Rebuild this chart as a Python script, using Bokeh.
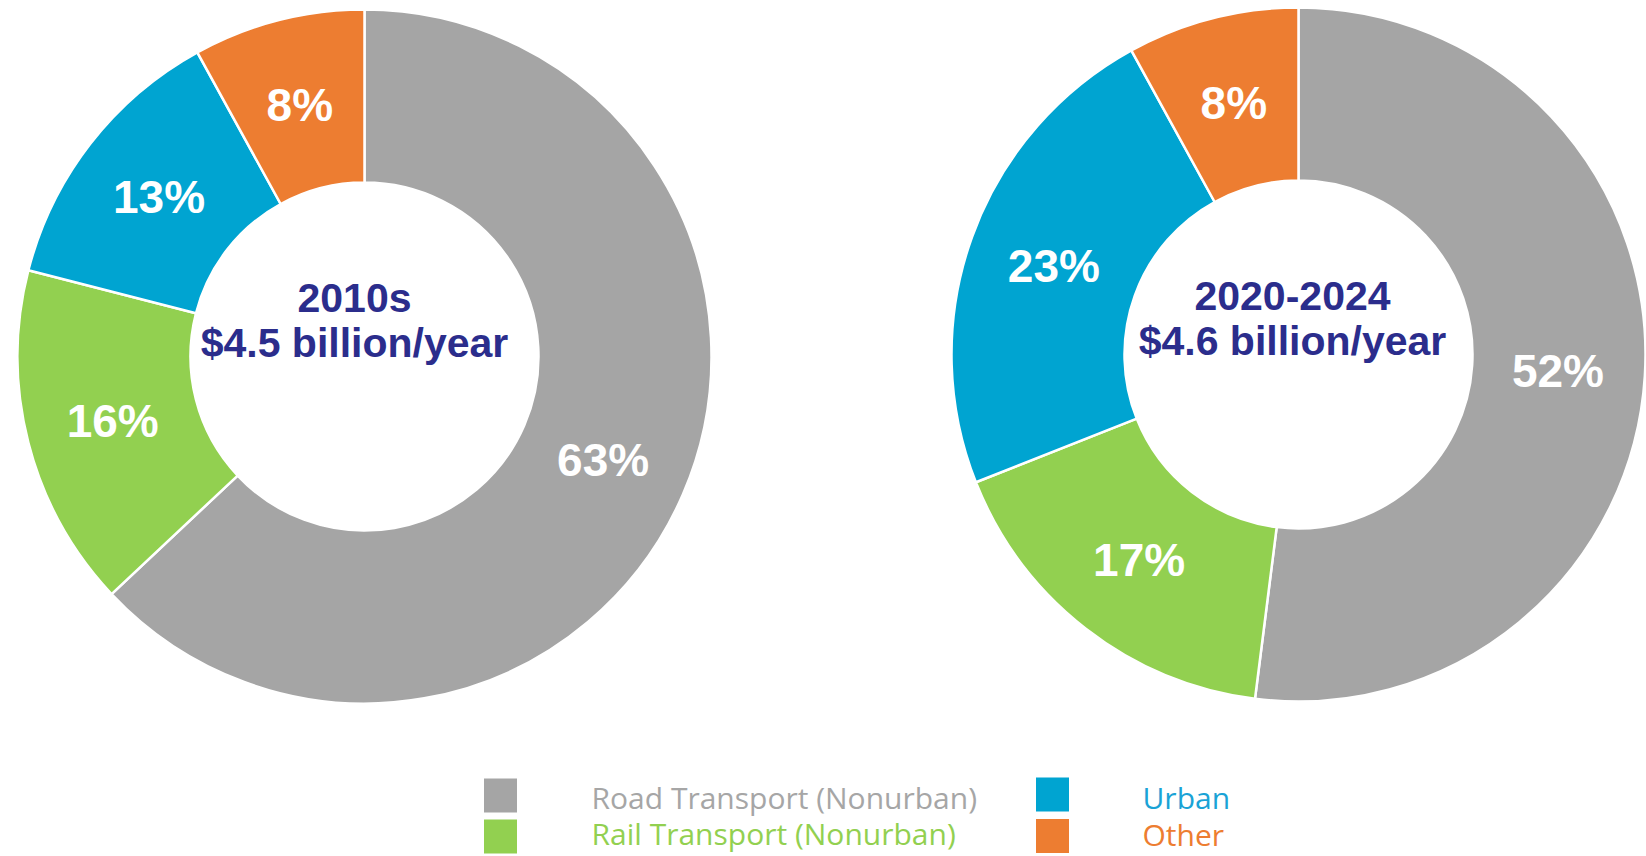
import math
from bokeh.plotting import figure
from bokeh.models import ColumnDataSource, Range1d
from bokeh.core.properties import value
from bokeh.embed import file_html
from bokeh.resources import INLINE

categories = ["Road Transport (Nonurban)", "Rail Transport (Nonurban)", "Urban", "Other"]
colors = ["#A5A5A5", "#92D050", "#00A4D1", "#ED7D31"]
legend_text_colors = ["#A6A6A6", "#92D050", "#1AA3D6", "#ED7D31"]
shares_2010s = [63, 16, 13, 8]
shares_2020s = [52, 17, 23, 8]
titles = ["2010s", "2020-2024"]
subtitles = ["$4.5 billion/year", "$4.6 billion/year"]

W, H = 1646, 856
p = figure(width=W, height=H, output_backend="svg", toolbar_location=None,
           x_range=Range1d(0, W), y_range=Range1d(0, H), min_border=0)
p.axis.visible = False
p.grid.visible = False
p.outline_line_color = None
p.background_fill_color = "white"
p.border_fill_color = "white"

donuts = [
    dict(cx=364, cy=500, shares=shares_2010s, tx=354, ty1=559, ty2=514),
    dict(cx=1298, cy=502, shares=shares_2020s, tx=1292, ty1=561, ty2=516),
]
R_OUT, R_IN, R_LBL = 347, 174, 260

for i, d in enumerate(donuts):
    total = float(sum(d["shares"]))
    starts, ends, lx, ly, labels = [], [], [], [], []
    cum = 0.0
    for s in d["shares"]:
        a0 = math.pi / 2 - 2 * math.pi * (cum + s) / total
        a1 = math.pi / 2 - 2 * math.pi * cum / total
        starts.append(a0)
        ends.append(a1)
        mid = (a0 + a1) / 2
        lx.append(d["cx"] + R_LBL * math.cos(mid))
        ly.append(d["cy"] + R_LBL * math.sin(mid))
        labels.append(f"{s}%")
        cum += s
    src = ColumnDataSource(dict(start=starts, end=ends, color=colors,
                                lx=lx, ly=ly, label=labels))
    p.annular_wedge(x=d["cx"], y=d["cy"], inner_radius=R_IN, outer_radius=R_OUT,
                    start_angle="start", end_angle="end", fill_color="color",
                    line_color="white", line_width=2.5, source=src)
    p.text(x="lx", y="ly", text="label", source=src, text_color="white",
           text_font=value("Liberation Sans"), text_font_style="bold",
           text_font_size="46px", text_align="center", text_baseline="middle")
    p.text(x=[d["tx"], d["tx"]], y=[d["ty1"], d["ty2"]], text=[titles[i], subtitles[i]],
           text_color="#2B2D8C", text_font=value("Liberation Sans"),
           text_font_style="bold", text_font_size="41px",
           text_align="center", text_baseline="middle")

# legend
sq_x = [500, 500, 1052, 1052]
sq_y = [61, 20, 62, 20.5]
tx = [591, 591, 1142, 1142]
ty = [59.5, 23.5, 59.5, 22]
lsrc = ColumnDataSource(dict(sx=sq_x, sy=sq_y, tx=tx, ty=ty, color=colors,
                             tcolor=legend_text_colors, name=categories))
p.rect(x="sx", y="sy", width=33, height=34, fill_color="color", line_color=None, source=lsrc)
p.text(x="tx", y="ty", text="name", text_color="tcolor", source=lsrc,
       text_font=value("Open Sans"), text_font_size="30px",
       text_align="left", text_baseline="middle")

open("out.html", "w").write(file_html(p, INLINE))
